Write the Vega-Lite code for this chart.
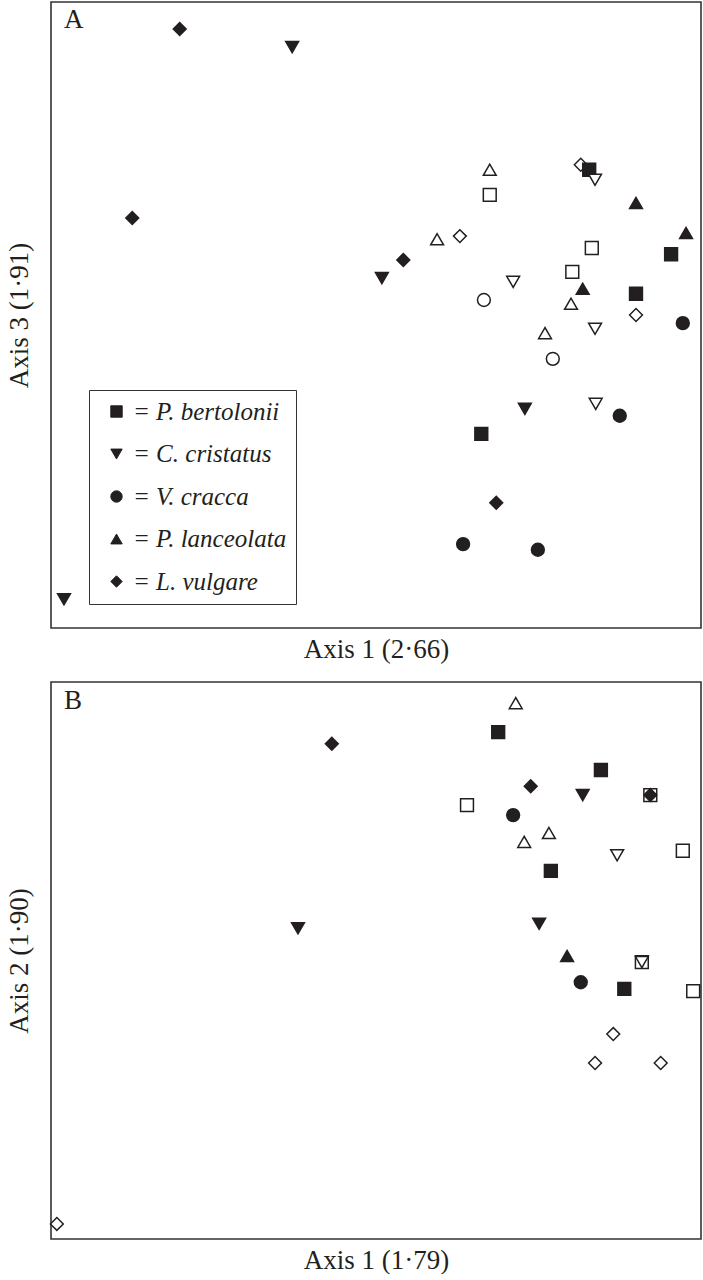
{
  "$schema": "https://vega.github.io/schema/vega-lite/v6.json",
  "padding": {"left": 4, "top": 1, "right": 0, "bottom": 0},
  "background": "white",
  "spacing": 18,
  "config": {
    "view": {"stroke": "#333333", "strokeWidth": 1.6},
    "axis": {"domain": false, "ticks": false, "labels": false, "grid": false, "titleFont": "Liberation Serif", "titleFontSize": 27, "titleFontWeight": "normal", "titleColor": "#231f20"},
    "title": {"font": "Liberation Serif", "fontSize": 27, "fontWeight": "normal", "color": "#231f20", "frame": "group"}
  },
  "datasets": {
    "A": [
      {"sp": "P. bertolonii", "kind": "open", "x": 67.5, "y": 69.2},
      {"sp": "P. bertolonii", "kind": "open", "x": 83.2, "y": 60.7},
      {"sp": "P. bertolonii", "kind": "open", "x": 80.2, "y": 56.9},
      {"sp": "L. vulgare", "kind": "open", "x": 81.5, "y": 74.0},
      {"sp": "P. bertolonii", "kind": "filled", "x": 82.8, "y": 73.2},
      {"sp": "C. cristatus", "kind": "open", "x": 83.7, "y": 71.6},
      {"sp": "P. lanceolata", "kind": "open", "x": 67.5, "y": 73.2},
      {"sp": "P. lanceolata", "kind": "filled", "x": 90.0, "y": 67.9},
      {"sp": "P. lanceolata", "kind": "filled", "x": 97.7, "y": 63.1},
      {"sp": "P. lanceolata", "kind": "open", "x": 59.4, "y": 62.1},
      {"sp": "L. vulgare", "kind": "open", "x": 62.9, "y": 62.6},
      {"sp": "L. vulgare", "kind": "filled", "x": 54.2, "y": 58.8},
      {"sp": "C. cristatus", "kind": "filled", "x": 50.9, "y": 55.9},
      {"sp": "P. bertolonii", "kind": "filled", "x": 95.4, "y": 59.7},
      {"sp": "C. cristatus", "kind": "open", "x": 71.1, "y": 55.3},
      {"sp": "P. lanceolata", "kind": "filled", "x": 81.8, "y": 54.2},
      {"sp": "P. bertolonii", "kind": "filled", "x": 90.0, "y": 53.4},
      {"sp": "V. cracca", "kind": "open", "x": 66.6, "y": 52.4},
      {"sp": "P. lanceolata", "kind": "open", "x": 80.0, "y": 51.8},
      {"sp": "L. vulgare", "kind": "open", "x": 90.0, "y": 50.0},
      {"sp": "V. cracca", "kind": "filled", "x": 97.2, "y": 48.7},
      {"sp": "P. lanceolata", "kind": "open", "x": 76.0, "y": 47.1},
      {"sp": "C. cristatus", "kind": "open", "x": 83.7, "y": 47.8},
      {"sp": "V. cracca", "kind": "open", "x": 77.2, "y": 43.0},
      {"sp": "C. cristatus", "kind": "filled", "x": 72.9, "y": 35.0},
      {"sp": "C. cristatus", "kind": "open", "x": 83.8, "y": 35.8},
      {"sp": "V. cracca", "kind": "filled", "x": 87.5, "y": 33.9},
      {"sp": "P. bertolonii", "kind": "filled", "x": 66.2, "y": 31.0},
      {"sp": "L. vulgare", "kind": "filled", "x": 68.5, "y": 20.0},
      {"sp": "V. cracca", "kind": "filled", "x": 63.4, "y": 13.4},
      {"sp": "V. cracca", "kind": "filled", "x": 74.9, "y": 12.5},
      {"sp": "L. vulgare", "kind": "filled", "x": 19.8, "y": 95.7},
      {"sp": "C. cristatus", "kind": "filled", "x": 37.1, "y": 92.8},
      {"sp": "L. vulgare", "kind": "filled", "x": 12.5, "y": 65.5},
      {"sp": "C. cristatus", "kind": "filled", "x": 2.0, "y": 4.6}
    ],
    "B": [
      {"sp": "L. vulgare", "kind": "filled", "x": 43.2, "y": 88.9},
      {"sp": "C. cristatus", "kind": "filled", "x": 38.0, "y": 55.8},
      {"sp": "P. lanceolata", "kind": "open", "x": 71.5, "y": 96.2},
      {"sp": "P. bertolonii", "kind": "filled", "x": 68.8, "y": 91.0},
      {"sp": "P. bertolonii", "kind": "filled", "x": 84.6, "y": 84.2},
      {"sp": "L. vulgare", "kind": "filled", "x": 73.8, "y": 81.3},
      {"sp": "C. cristatus", "kind": "filled", "x": 81.8, "y": 79.7},
      {"sp": "P. bertolonii", "kind": "open", "x": 92.2, "y": 79.7},
      {"sp": "L. vulgare", "kind": "filled", "x": 92.2, "y": 79.7},
      {"sp": "P. bertolonii", "kind": "open", "x": 64.0, "y": 77.9},
      {"sp": "V. cracca", "kind": "filled", "x": 71.1, "y": 76.1},
      {"sp": "P. lanceolata", "kind": "open", "x": 76.6, "y": 72.9},
      {"sp": "P. lanceolata", "kind": "open", "x": 72.8, "y": 71.3},
      {"sp": "C. cristatus", "kind": "open", "x": 87.1, "y": 68.9},
      {"sp": "P. bertolonii", "kind": "open", "x": 97.2, "y": 69.7},
      {"sp": "P. bertolonii", "kind": "filled", "x": 76.9, "y": 66.1},
      {"sp": "C. cristatus", "kind": "filled", "x": 75.1, "y": 56.6},
      {"sp": "P. lanceolata", "kind": "filled", "x": 79.4, "y": 50.8},
      {"sp": "P. bertolonii", "kind": "open", "x": 90.9, "y": 49.7},
      {"sp": "C. cristatus", "kind": "open", "x": 90.9, "y": 49.7},
      {"sp": "V. cracca", "kind": "filled", "x": 81.5, "y": 46.1},
      {"sp": "P. bertolonii", "kind": "filled", "x": 88.2, "y": 44.9},
      {"sp": "P. bertolonii", "kind": "open", "x": 98.8, "y": 44.5},
      {"sp": "L. vulgare", "kind": "open", "x": 86.5, "y": 36.8},
      {"sp": "L. vulgare", "kind": "open", "x": 83.7, "y": 31.6},
      {"sp": "L. vulgare", "kind": "open", "x": 93.8, "y": 31.6},
      {"sp": "L. vulgare", "kind": "open", "x": 0.9, "y": 2.7}
    ]
  },
  "resolve": {"scale": {"shape": "independent", "fill": "independent"}, "legend": {"shape": "independent", "fill": "independent"}},
  "vconcat": [
    {
      "width": 650,
      "height": 626,
      "title": {"text": "A", "anchor": "start", "offset": -32, "dx": 13},
      "data": {"name": "A"},
      "mark": {"type": "point", "filled": true, "size": 165, "stroke": "#231f20", "strokeWidth": 1.5, "opacity": 1},
      "encoding": {
        "x": {"field": "x", "type": "quantitative", "scale": {"domain": [0, 100], "nice": false, "zero": false}, "axis": {"title": "Axis 1 (2·66)", "titlePadding": 8}},
        "y": {"field": "y", "type": "quantitative", "scale": {"domain": [0, 100], "nice": false, "zero": false}, "axis": {"title": "Axis 3 (1·91)", "titlePadding": 18}},
        "shape": {"field": "sp", "type": "nominal",
          "scale": {"domain": ["P. bertolonii", "C. cristatus", "V. cracca", "P. lanceolata", "L. vulgare"], "range": ["square", "triangle-down", "circle", "triangle-up", "diamond"]},
          "legend": {"title": null, "orient": "none", "legendX": 38, "legendY": 388, "strokeColor": "#333333", "padding": 9, "symbolOffset": 6, "rowPadding": 16.5, "symbolSize": 130, "symbolFillColor": "#231f20", "symbolStrokeColor": "#231f20", "symbolStrokeWidth": 1, "labelFont": "Liberation Serif", "labelFontStyle": "italic", "labelFontSize": 25, "labelColor": "#231f20", "labelOffset": 4, "labelExpr": "'= ' + datum.label + '   '", "labelLimit": 300}},
        "fill": {"field": "kind", "type": "nominal", "scale": {"domain": ["filled", "open"], "range": ["#231f20", "#ffffff"]}, "legend": null}
      }
    },
    {
      "width": 650,
      "height": 557,
      "title": {"text": "B", "anchor": "start", "offset": -33, "dx": 13},
      "data": {"name": "B"},
      "mark": {"type": "point", "filled": true, "size": 165, "stroke": "#231f20", "strokeWidth": 1.5, "opacity": 1},
      "encoding": {
        "x": {"field": "x", "type": "quantitative", "scale": {"domain": [0, 100], "nice": false, "zero": false}, "axis": {"title": "Axis 1 (1·79)", "titlePadding": 8}},
        "y": {"field": "y", "type": "quantitative", "scale": {"domain": [0, 100], "nice": false, "zero": false}, "axis": {"title": "Axis 2 (1·90)", "titlePadding": 18}},
        "shape": {"field": "sp", "type": "nominal",
          "scale": {"domain": ["P. bertolonii", "C. cristatus", "V. cracca", "P. lanceolata", "L. vulgare"], "range": ["square", "triangle-down", "circle", "triangle-up", "diamond"]},
          "legend": null},
        "fill": {"field": "kind", "type": "nominal", "scale": {"domain": ["filled", "open"], "range": ["#231f20", "#ffffff"]}, "legend": null}
      }
    }
  ]
}
